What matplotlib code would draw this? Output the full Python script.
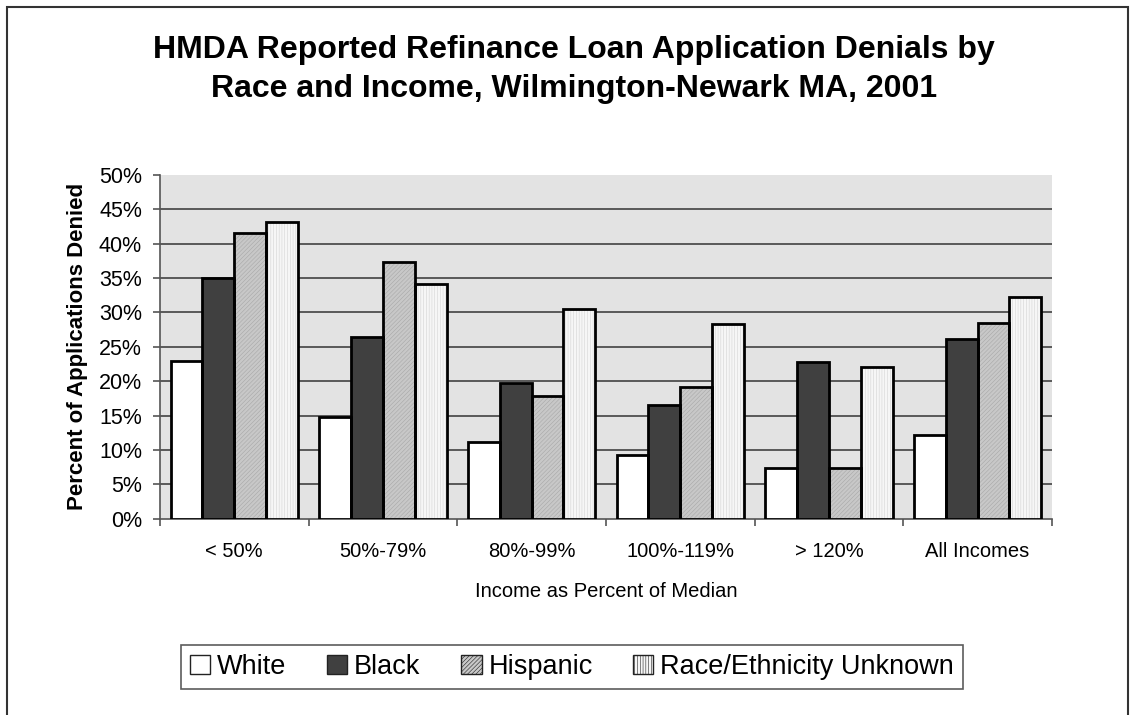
import matplotlib
matplotlib.use("Agg")
import matplotlib.pyplot as plt
import numpy as np
from matplotlib.patches import Patch, Rectangle

plt.rcParams["font.family"] = ["Liberation Sans", "DejaVu Sans"]
plt.rcParams["hatch.linewidth"] = 0.4

# data
categories = ["< 50%", "50%-79%", "80%-99%", "100%-119%", "> 120%", "All Incomes"]
white = [23.0, 14.8, 11.1, 9.3, 7.3, 12.2]
black = [35.0, 26.5, 19.8, 16.6, 22.8, 26.2]
hispanic = [41.6, 37.3, 17.8, 19.2, 7.3, 28.5]
unknown = [43.1, 34.1, 30.5, 28.3, 22.1, 32.3]
series_names = ["White", "Black", "Hispanic", "Race/Ethnicity Unknown"]

series = [white, black, hispanic, unknown]
faces = ["white", "#404040", "#c8c8c8", "#f6f6f6"]
hatches = [None, None, "////////", "||||||"]
hatch_cols = ["white", "#404040", "#a8a8a8", "#d4d4d4"]

fig = plt.figure(figsize=(11.32, 7.15), dpi=100)
ax = fig.add_axes([0.1413, 0.2746, 0.7879, 0.4806])
ax.set_facecolor("#e3e3e3")

x = np.arange(len(categories))
w = 0.214
for i, vals in enumerate(series):
    pos = x + (i - 1.5) * w
    ax.bar(pos, vals, w, color=faces[i], hatch=hatches[i], edgecolor=hatch_cols[i],
           linewidth=0, zorder=3)
    ax.bar(pos, vals, w, facecolor="none", edgecolor="black", linewidth=2, zorder=4)

ax.set_xlim(-0.5, len(categories) - 0.5)
ax.set_ylim(0, 50)
ax.set_yticks(np.arange(0, 51, 5))
ax.set_yticklabels([f"{v}%" for v in range(0, 51, 5)], fontsize=15.5)
for v in range(5, 50, 5):
    ax.axhline(v, color="#333333", linewidth=1.1, zorder=1)

ax.set_xticks(x)
ax.set_xticklabels(categories, fontsize=14.5)
ax.set_xticks(np.arange(-0.5, len(categories), 1), minor=True)
ax.tick_params(axis="x", which="major", length=0, pad=17)
ax.tick_params(axis="x", which="minor", length=5, color="#555555", width=1.2)
ax.tick_params(axis="y", length=5, color="#555555", width=1.2, pad=8)

for s in ["top", "right"]:
    ax.spines[s].set_visible(False)
for s in ["left", "bottom"]:
    ax.spines[s].set_color("#555555")
    ax.spines[s].set_linewidth(1.2)

ax.set_xlabel("Income as Percent of Median", fontsize=14.5, labelpad=15)
ax.set_ylabel("Percent of Applications Denied", fontsize=16, fontweight="bold", labelpad=8)

fig.text(574 / 1132, 1 - 69.5 / 715,
         "HMDA Reported Refinance Loan Application Denials by\nRace and Income, Wilmington-Newark MA, 2001",
         ha="center", va="center", fontsize=23, fontweight="bold", linespacing=1.4)

handles = [Patch(facecolor=faces[i], hatch=hatches[i], edgecolor="#222222", linewidth=1)
           for i in range(4)]
leg = fig.legend(handles, series_names, loc="center", bbox_to_anchor=(572 / 1132, 1 - 667 / 715),
                 ncol=4, fontsize=19.5, frameon=True, fancybox=False, edgecolor="#333333",
                 handlelength=0.75, handleheight=0.75, handletextpad=0.25, columnspacing=1.5,
                 borderpad=0.35)
leg.get_frame().set_linewidth(1.2)

fig.patches.append(Rectangle((7 / 1132, -0.05), 1121 / 1132, 1.05 - 7 / 715, transform=fig.transFigure,
                             fill=False, edgecolor="#333333", linewidth=1.5))

fig.savefig("out.png", dpi=100)
